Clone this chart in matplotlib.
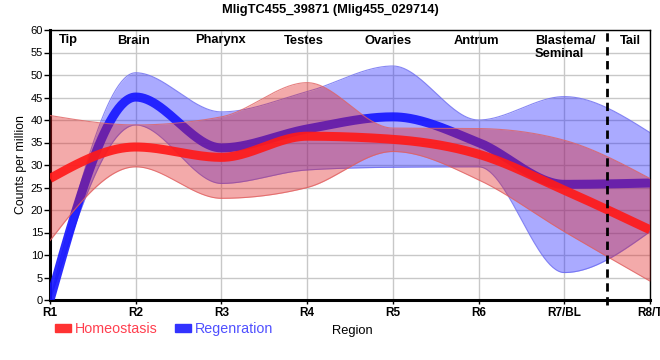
import numpy as np
import matplotlib
matplotlib.use("Agg")
import matplotlib.pyplot as plt
from matplotlib.patches import Patch

plt.rcParams['font.family'] = ['Liberation Sans', 'DejaVu Sans']

# ---- data ----
tick_labels = ["R1", "R2", "R3", "R4", "R5", "R6", "R7/BL", "R8/T"]
regions = ["Tip", "Brain", "Pharynx", "Testes", "Ovaries", "Antrum", "Blastema/\nSeminal", "Tail"]
region_pos = [0.21, 0.97, 1.99, 2.96, 3.94, 4.98, 6.01, 6.77]

homeo_mean = [27.0, 34.0, 31.7, 36.4, 35.7, 32.4, 24.4, 15.6]
homeo_upper = [41.0, 38.9, 40.7, 48.3, 38.2, 38.1, 35.5, 27.0]
homeo_lower = [13.2, 29.6, 22.6, 25.0, 33.0, 26.7, 15.2, 4.2]

regen_mean = [0.0, 45.1, 33.8, 38.0, 40.7, 35.0, 25.7, 26.0]
regen_upper = [0.0, 50.5, 41.8, 46.3, 52.0, 40.0, 45.2, 37.2]
regen_lower = [0.0, 38.9, 25.9, 28.9, 29.5, 29.6, 6.1, 15.2]

divider = 6.5
title = "MligTC455_39871 (Mlig455_029714)"


def monotone_x(y, n=60):
    """d3 curveMonotoneX style rendering of points at x = 0..len-1."""
    y = np.asarray(y, float)
    x = np.arange(len(y), dtype=float)
    k = len(y)
    s = np.diff(y) / np.diff(x)
    t = np.zeros(k)
    for i in range(1, k - 1):
        s0, s1 = s[i - 1], s[i]
        p = (s0 + s1) / 2.0
        t[i] = (np.sign(s0) + np.sign(s1)) * min(abs(s0), abs(s1), 0.5 * abs(p))
    t[0] = (3 * s[0] - t[1]) / 2.0
    t[-1] = (3 * s[-1] - t[-2]) / 2.0
    xs, ys = [], []
    for i in range(k - 1):
        u = np.linspace(0, 1, n, endpoint=(i == k - 2))
        h00 = 2 * u**3 - 3 * u**2 + 1
        h10 = u**3 - 2 * u**2 + u
        h01 = -2 * u**3 + 3 * u**2
        h11 = u**3 - u**2
        xs.append(x[i] + u)
        ys.append(h00 * y[i] + h10 * t[i] + h01 * y[i + 1] + h11 * t[i + 1])
    return np.concatenate(xs), np.concatenate(ys)


fig = plt.figure(figsize=(6.6, 3.6), dpi=100)
ax = fig.add_axes([50 / 660, 1 - 300 / 360, 600 / 660, 270 / 360])

red_band = '#e02020'
blue_band = '#2020ff'

# regeneration band + line
xu, yu = monotone_x(regen_upper)
xl, yl = monotone_x(regen_lower)
ax.fill_between(xu, yl, yu, color=blue_band, alpha=0.38, lw=0, zorder=2)
ax.plot(xu, yu, color='#6a6af0', lw=0.8, alpha=0.8, zorder=2)
ax.plot(xl, yl, color='#6a6af0', lw=0.8, alpha=0.8, zorder=2)
xm, ym = monotone_x(regen_mean)
ax.plot(xm, ym, color='#1414ff', lw=6.5, alpha=0.9, zorder=3, solid_capstyle='butt')

# homeostasis band + line
xu, yu = monotone_x(homeo_upper)
xl, yl = monotone_x(homeo_lower)
ax.fill_between(xu, yl, yu, color=red_band, alpha=0.38, lw=0, zorder=4)
ax.plot(xu, yu, color='#e06060', lw=0.8, alpha=0.8, zorder=4)
ax.plot(xl, yl, color='#e06060', lw=0.8, alpha=0.8, zorder=4)
xm, ym = monotone_x(homeo_mean)
ax.plot(xm, ym, color='#ff1a1a', lw=6.5, alpha=0.92, zorder=5, solid_capstyle='butt')

ax.set_xlim(0, len(tick_labels) - 1)
ax.set_ylim(0, 60)
ax.set_xticks(range(len(tick_labels)))
ax.set_xticklabels(tick_labels, fontweight='bold', fontsize=8.5)
ax.set_yticks(np.arange(0, 61, 5))
ax.tick_params(axis='y', labelsize=8, length=4, width=1, pad=1)
ax.tick_params(axis='x', length=3, width=1, pad=2)
ax.grid(True, color='#c8c8c8', lw=1, zorder=0)
ax.set_axisbelow(True)

for sp in ['left', 'bottom']:
    ax.spines[sp].set_linewidth(2.2)
for sp in ['top', 'right']:
    ax.spines[sp].set_linewidth(1)

ax.plot([divider, divider], [-1.2, 60], color='black', lw=2, ls=(0, (3, 2)),
        clip_on=False, zorder=6)

for name, pos in zip(regions, region_pos):
    ax.text(pos, 59, name, ha='center', va='top', fontsize=9.3, fontweight='bold',
            multialignment='left', zorder=7)

ax.set_ylabel("Counts per million", fontsize=8.8, labelpad=3)
fig.text(352 / 660, 1 - 331 / 360, "Region", ha='center', va='center', fontsize=9.3)
fig.text(330 / 660, 1 - 10 / 360, title, ha='center', va='center', fontsize=9.3,
         fontweight='bold')

handles = [Patch(color='#ff3333', label='Homeostasis'),
           Patch(color='#3333ff', label='Regenration')]
leg = fig.legend(handles=handles, loc='center left', bbox_to_anchor=(55 / 660, 1 - 329 / 360),
                 ncol=2, frameon=False, fontsize=10.3, handlelength=1.1, handleheight=0.55,
                 handletextpad=0.3, columnspacing=1.2, borderpad=0, borderaxespad=0)
leg.get_texts()[0].set_color('#ff4050')
leg.get_texts()[1].set_color('#5050ff')

fig.savefig("out.png", dpi=100)
